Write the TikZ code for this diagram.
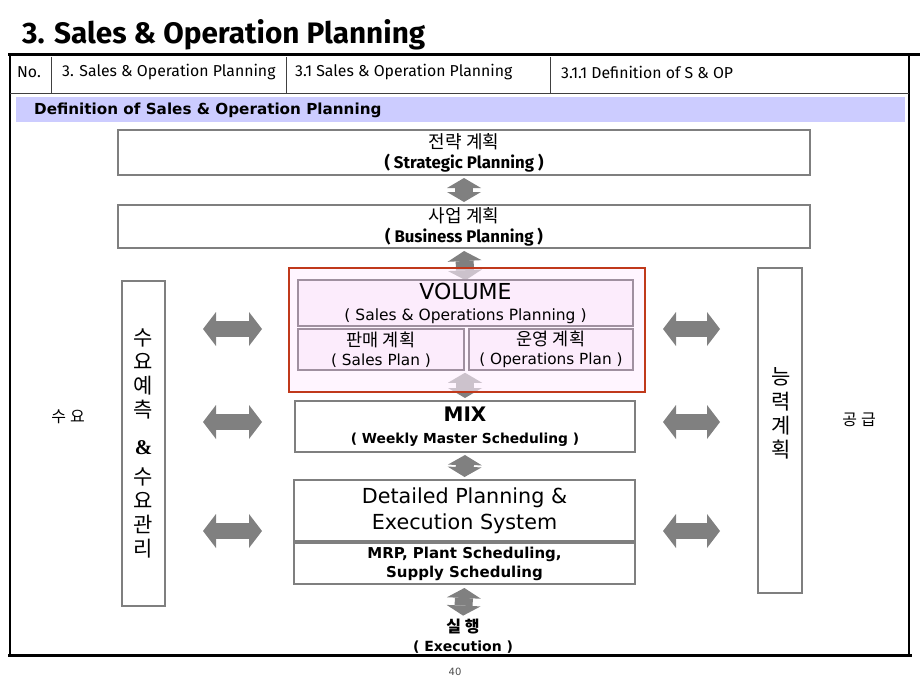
\documentclass[tikz,border=0pt]{standalone}
\usepackage{fontspec}
\setmainfont{Fira Sans}
\newfontfamily\krfont{Noto Sans CJK KR}
\newfontfamily\djfont{DejaVu Sans}
\newfontfamily\ampfont{Liberation Serif}
\usetikzlibrary{arrows.meta,backgrounds}
\definecolor{boxgray}{HTML}{7F7F7F}
\definecolor{redb}{HTML}{C0391B}
\definecolor{pinkfill}{HTML}{FFEEFF}
\definecolor{volfill}{HTML}{FAE6FA}
\definecolor{volline}{HTML}{A090A0}
\definecolor{bandcol}{HTML}{CCCCFF}
\definecolor{arrowgray}{HTML}{808080}
\definecolor{hdrline}{HTML}{404040}
\begin{document}
\begin{tikzpicture}[x=1pt,y=-1pt,
  box/.style={draw=boxgray, line width=2pt, fill=white, inner sep=0pt, align=center},
  sub/.style={draw=volline, line width=1.5pt, fill=volfill, fill opacity=0.6, text opacity=1, inner sep=0pt, align=center},
  redbox/.style={draw=redb, line width=2.5pt, fill=pinkfill, fill opacity=0.6, inner sep=0pt},
  hdr/.style={anchor=west, inner sep=0pt, font=\fontsize{15.8}{17}\selectfont},
  plain/.style={inner sep=0pt, align=center},
  varrow/.style={draw=arrowgray, line width=18pt,
     {Triangle[length=10pt,width=34pt,line width=0pt]}-{Triangle[length=10pt,width=34pt,line width=0pt]}},
  harrow/.style={draw=arrowgray, line width=16pt,
     {Triangle[length=13pt,width=34pt,line width=0pt]}-{Triangle[length=13pt,width=34pt,line width=0pt]}}
]
\useasboundingbox (0,0) rectangle (920,690);

% title
\node[anchor=base west, inner sep=0pt] (title) at (22,44)
  {\resizebox{403pt}{24pt}{\bfseries 3. Sales \& Operation Planning}};

% frame
\draw[line width=3pt] (8,55) -- (920,55);
\draw[line width=2.5pt] (10,55) -- (10,656);
\draw[line width=2.5pt] (909,55) -- (909,656);
\draw[line width=3pt] (8,655) -- (912,655);

% header row
\draw[hdrline, line width=0.8pt] (10,93) -- (909,93);
\draw[hdrline, line width=0.8pt] (51,57) -- (51,93);
\draw[hdrline, line width=0.8pt] (286,57) -- (286,93);
\draw[hdrline, line width=0.8pt] (550,57) -- (550,93);
\node[hdr] (h1) at (17,72) {No.};
\node[hdr] (h2) at (62,72) {3. Sales \& Operation Planning};
\node[hdr] (h3) at (295,72) {3.1 Sales \& Operation Planning};
\node[hdr] (h4) at (561,72) {3.1.1 Definition of S \& OP};

% band
\fill[bandcol] (16,97) rectangle (905,122);
\node[anchor=west, inner sep=0pt, font=\djfont\bfseries\fontsize{15.2}{17}\selectfont] (band) at (34,110)
  {Definition of Sales \& Operation Planning};

% top boxes
\node[box, minimum width=692, minimum height=45, font=\fontsize{16.8}{20}\selectfont] (strat) at (464,152.5)
  {{\krfont\fontsize{18}{20}\selectfont 전략 계획}\\{\bfseries ( Strategic Planning )}};
\node[box, minimum width=692, minimum height=43, font=\fontsize{16.8}{20}\selectfont] (bus) at (464,226.5)
  {{\krfont\fontsize{18}{20}\selectfont 사업 계획}\\{\bfseries ( Business Planning )}};

% red volume box
\node[redbox, minimum width=356, minimum height=124] (red) at (467,330) {};
\node[sub, minimum width=335, minimum height=46, font=\djfont\fontsize{15.5}{21}\selectfont] (vol) at (465.5,303)
  {{\fontsize{22}{22}\selectfont VOLUME}\\( Sales \& Operations Planning )};
\node[sub, minimum width=166, minimum height=41, font=\djfont\fontsize{15.3}{19}\selectfont] (sp) at (381,349.5)
  {{\krfont\fontsize{17.5}{19}\selectfont 판매 계획}\\( Sales Plan )};
\node[sub, minimum width=164, minimum height=41, font=\djfont\fontsize{15.3}{19}\selectfont] (op) at (551,349.5)
  {{\krfont\fontsize{17.5}{19}\selectfont 운영 계획}\\( Operations Plan )};

% mix and detail
\node[box, minimum width=340, minimum height=51, font=\djfont\bfseries\fontsize{13.8}{22}\selectfont] (mix) at (465,426.5)
  {{\fontsize{20}{22}\selectfont MIX}\\( Weekly Master Scheduling )};
\node[box, minimum width=341, minimum height=61, font=\djfont\fontsize{20.7}{26}\selectfont] (det) at (464.5,510.5)
  {Detailed Planning \&\\Execution System};
\node[box, minimum width=341, minimum height=41, font=\djfont\bfseries\fontsize{15}{19}\selectfont] (mrp) at (464.5,563.5)
  {MRP, Plant Scheduling,\\Supply Scheduling};
\node[plain, font=\djfont\bfseries\fontsize{14}{19}\selectfont] (exec) at (463,636)
  {{\krfont\bfseries\fontsize{16}{19}\selectfont 실 행}\\( Execution )};

% side boxes
\node[box, minimum width=43, minimum height=325, font=\krfont\fontsize{21}{24}\selectfont] (ldem) at (143.5,443)
  {수\\요\\예\\측\\[13pt]{\ampfont\bfseries\fontsize{21}{24}\selectfont\&}\\[6pt]수\\요\\관\\리};
\node[box, minimum width=44, minimum height=325] (rcap) at (780,430.5) {};
\node[plain, font=\krfont\fontsize{21}{24.3}\selectfont] (rtext) at (781,413.5) {능\\력\\계\\획};
\node[plain, font=\krfont\fontsize{16}{18}\selectfont] (dem) at (68,417) {수\hspace{4pt}요};
\node[plain, font=\krfont\fontsize{16}{18}\selectfont] (sup) at (859,420) {공\hspace{4pt}급};

% page number
\node[plain, text=black!70, font=\djfont\fontsize{10}{12}\selectfont] (pg) at (455,672) {40};

% horizontal arrow end points
\coordinate (l1a) at (203,329); \coordinate (l1b) at (262,329);
\coordinate (l2a) at (203,422); \coordinate (l2b) at (262,422);
\coordinate (l3a) at (203,531); \coordinate (l3b) at (262,531);
\coordinate (r1a) at (663,329); \coordinate (r1b) at (720,329);
\coordinate (r2a) at (663,422); \coordinate (r2b) at (720,422);
\coordinate (r3a) at (663,531); \coordinate (r3b) at (720,531);
\coordinate (a3s) at (sp.south -| mix.north);

\begin{scope}[on background layer]
\draw[varrow, shorten <=2pt, shorten >=2pt] (strat.south) -- (bus.north);
\draw[varrow, shorten <=2pt, shorten >=-1pt] (bus.south) -- (vol.north);
\draw[varrow, shorten <=2pt, shorten >=2pt] (a3s) -- (mix.north);
\draw[varrow, shorten <=2pt, shorten >=2pt] (mix.south) -- (det.north);
\draw[varrow, shorten <=3pt, shorten >=3pt] (mrp.south) -- (exec.north);
\draw[harrow] (l1a) -- (l1b);
\draw[harrow] (l2a) -- (l2b);
\draw[harrow] (l3a) -- (l3b);
\draw[harrow] (r1a) -- (r1b);
\draw[harrow] (r2a) -- (r2b);
\draw[harrow] (r3a) -- (r3b);
\end{scope}
\end{tikzpicture}
\end{document}
